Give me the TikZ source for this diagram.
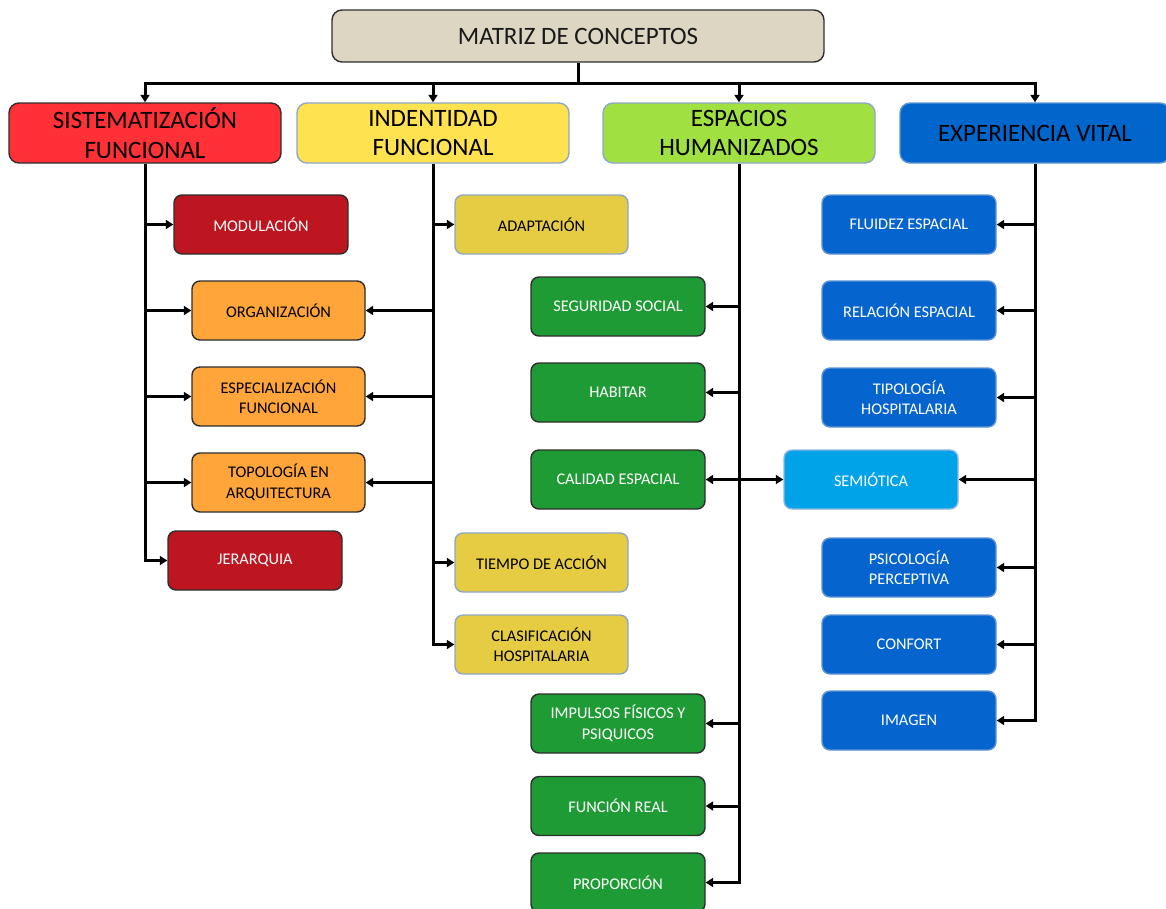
\documentclass[tikz,border=0pt]{standalone}
\usepackage{fontspec}
\setmainfont{Carlito}
\usetikzlibrary{arrows.meta}

% fill and border colours
\definecolor{titfill}{HTML}{DDD6C3}
\definecolor{sisfill}{HTML}{FF3036}
\definecolor{indfill}{HTML}{FFE250}
\definecolor{espfill}{HTML}{A0E040}
\definecolor{expfill}{HTML}{0066CC}
\definecolor{redbox}{HTML}{BE1620}
\definecolor{orgbox}{HTML}{FFA53A}
\definecolor{yelbox}{HTML}{E5CC42}
\definecolor{grnbox}{HTML}{1F9B35}
\definecolor{blubox}{HTML}{0564CD}
\definecolor{semibox}{HTML}{00A3E8}
\definecolor{darkedge}{HTML}{2E2E2E}
\definecolor{softedge}{HTML}{8EA7C8}
\definecolor{bluedge}{HTML}{5F95D6}

\tikzset{
  box/.style={draw, line width=1.4pt, rounded corners=8pt, align=center,
    inner sep=2pt, font=\fontsize{16.3}{20.5}\selectfont,
    minimum width=174pt, minimum height=59pt},
  head/.style={box, rounded corners=10pt, minimum width=272pt, minimum height=60pt,
    font=\fontsize{25}{29.5}\selectfont, text=black},
  redc/.style={box, fill=redbox, draw=darkedge, text=white},
  orgc/.style={box, fill=orgbox, draw=darkedge, text=black},
  yelc/.style={box, fill=yelbox, draw=softedge, text=black},
  grnc/.style={box, fill=grnbox, draw=darkedge, text=white},
  bluc/.style={box, fill=blubox, draw=bluedge, text=white},
  link/.style={line width=3pt, black},
  arr/.style={link, -{Triangle[length=7.5pt,width=9pt]}},
  darr/.style={link, {Triangle[length=7.5pt,width=9pt]}-{Triangle[length=7.5pt,width=9pt]}}
}

\begin{document}
\begin{tikzpicture}[x=1pt,y=-1pt]
\useasboundingbox (0,0) rectangle (1166,908);

% title and the four main concepts
\node[box, rounded corners=10pt, fill=titfill, draw=darkedge, minimum width=492pt,
  minimum height=52pt, font=\fontsize{25}{29.5}\selectfont, text=black!90] (tit) at (578,36) {MATRIZ DE CONCEPTOS};
\node[head, fill=sisfill, draw=darkedge] (sis) at (145,133) {SISTEMATIZACIÓN\\FUNCIONAL};
\node[head, fill=indfill, draw=softedge] (ind) at (433,133) {INDENTIDAD\\FUNCIONAL};
\node[head, fill=espfill, draw=softedge] (esp) at (739,133) {ESPACIOS\\HUMANIZADOS};
\node[head, fill=expfill, draw=bluedge, minimum width=270pt] (exp) at (1035,133) {EXPERIENCIA VITAL};

% sistematización funcional
\node[redc] (mod) at (261,224.5) {MODULACIÓN};
\node[orgc, minimum width=173pt] (org) at (278.5,310.5) {ORGANIZACIÓN};
\node[orgc, minimum width=173pt] (espe) at (278.5,396.5) {ESPECIALIZACIÓN\\FUNCIONAL};
\node[orgc, minimum width=173pt] (topo) at (278.5,482.5) {TOPOLOGÍA EN\\ARQUITECTURA};
\node[redc] (jer) at (255,560.5) {JERARQUIA};

% indentidad funcional
\node[yelc, minimum width=173pt] (adap) at (541.5,224.5) {ADAPTACIÓN};
\node[yelc, minimum width=173pt] (tiem) at (541.5,562.5) {TIEMPO DE ACCIÓN};
\node[yelc, minimum width=173pt] (clas) at (541.5,644.5) {CLASIFICACIÓN\\HOSPITALARIA};

% espacios humanizados
\node[grnc] (seg) at (618,306.5) {SEGURIDAD SOCIAL};
\node[grnc] (hab) at (618,392.5) {HABITAR};
\node[grnc] (cal) at (618,479.5) {CALIDAD ESPACIAL};
\node[grnc] (imp) at (618,723.5) {IMPULSOS FÍSICOS Y\\PSIQUICOS};
\node[grnc] (fun) at (618,806) {FUNCIÓN REAL};
\node[grnc] (prop) at (618,882.5) {PROPORCIÓN};

% experiencia vital
\node[bluc] (flu) at (909,224.5) {FLUIDEZ ESPACIAL};
\node[bluc] (rel) at (909,310.5) {RELACIÓN ESPACIAL};
\node[bluc] (tip) at (909,397.5) {TIPOLOGÍA\\HOSPITALARIA};
\node[box, fill=semibox, draw=bluedge!70, text=white] (sem) at (871,479.5) {SEMIÓTICA};
\node[bluc] (psi) at (909,567.5) {PSICOLOGÍA\\PERCEPTIVA};
\node[bluc] (conf) at (909,644.5) {CONFORT};
\node[bluc] (ima) at (909,720.5) {IMAGEN};

% distribution bus under the title
\coordinate (bus) at (578,83);
\draw[link] (tit.south) -- (bus);
\draw[link, line cap=rect] (sis.north |- bus) -- (exp.north |- bus);
\draw[arr] (sis.north |- bus) -- (sis.north);
\draw[arr] (ind.north |- bus) -- (ind.north);
\draw[arr] (esp.north |- bus) -- (esp.north);
\draw[arr] (exp.north |- bus) -- (exp.north);

% column 1
\draw[arr] (sis.south) |- (jer.west);
\draw[arr] (sis.south |- mod.west) -- (mod.west);
\draw[arr] (sis.south |- org.west) -- (org.west);
\draw[arr] (sis.south |- espe.west) -- (espe.west);
\draw[arr] (sis.south |- topo.west) -- (topo.west);

% column 2
\draw[arr] (ind.south) |- (clas.west);
\draw[arr] (ind.south |- adap.west) -- (adap.west);
\draw[arr] (ind.south |- tiem.west) -- (tiem.west);
\draw[arr] (ind.south |- org.east) -- (org.east);
\draw[arr] (ind.south |- espe.east) -- (espe.east);
\draw[arr] (ind.south |- topo.east) -- (topo.east);

% column 3
\draw[arr] (esp.south) |- (prop.east);
\draw[arr] (esp.south |- seg.east) -- (seg.east);
\draw[arr] (esp.south |- hab.east) -- (hab.east);
\draw[arr] (esp.south |- imp.east) -- (imp.east);
\draw[arr] (esp.south |- fun.east) -- (fun.east);
\draw[darr] (cal.east) -- (sem.west);

% column 4
\draw[arr] (exp.south) |- (ima.east);
\draw[arr] (exp.south |- flu.east) -- (flu.east);
\draw[arr] (exp.south |- rel.east) -- (rel.east);
\draw[arr] (exp.south |- tip.east) -- (tip.east);
\draw[arr] (exp.south |- sem.east) -- (sem.east);
\draw[arr] (exp.south |- psi.east) -- (psi.east);
\draw[arr] (exp.south |- conf.east) -- (conf.east);
\end{tikzpicture}
\end{document}
